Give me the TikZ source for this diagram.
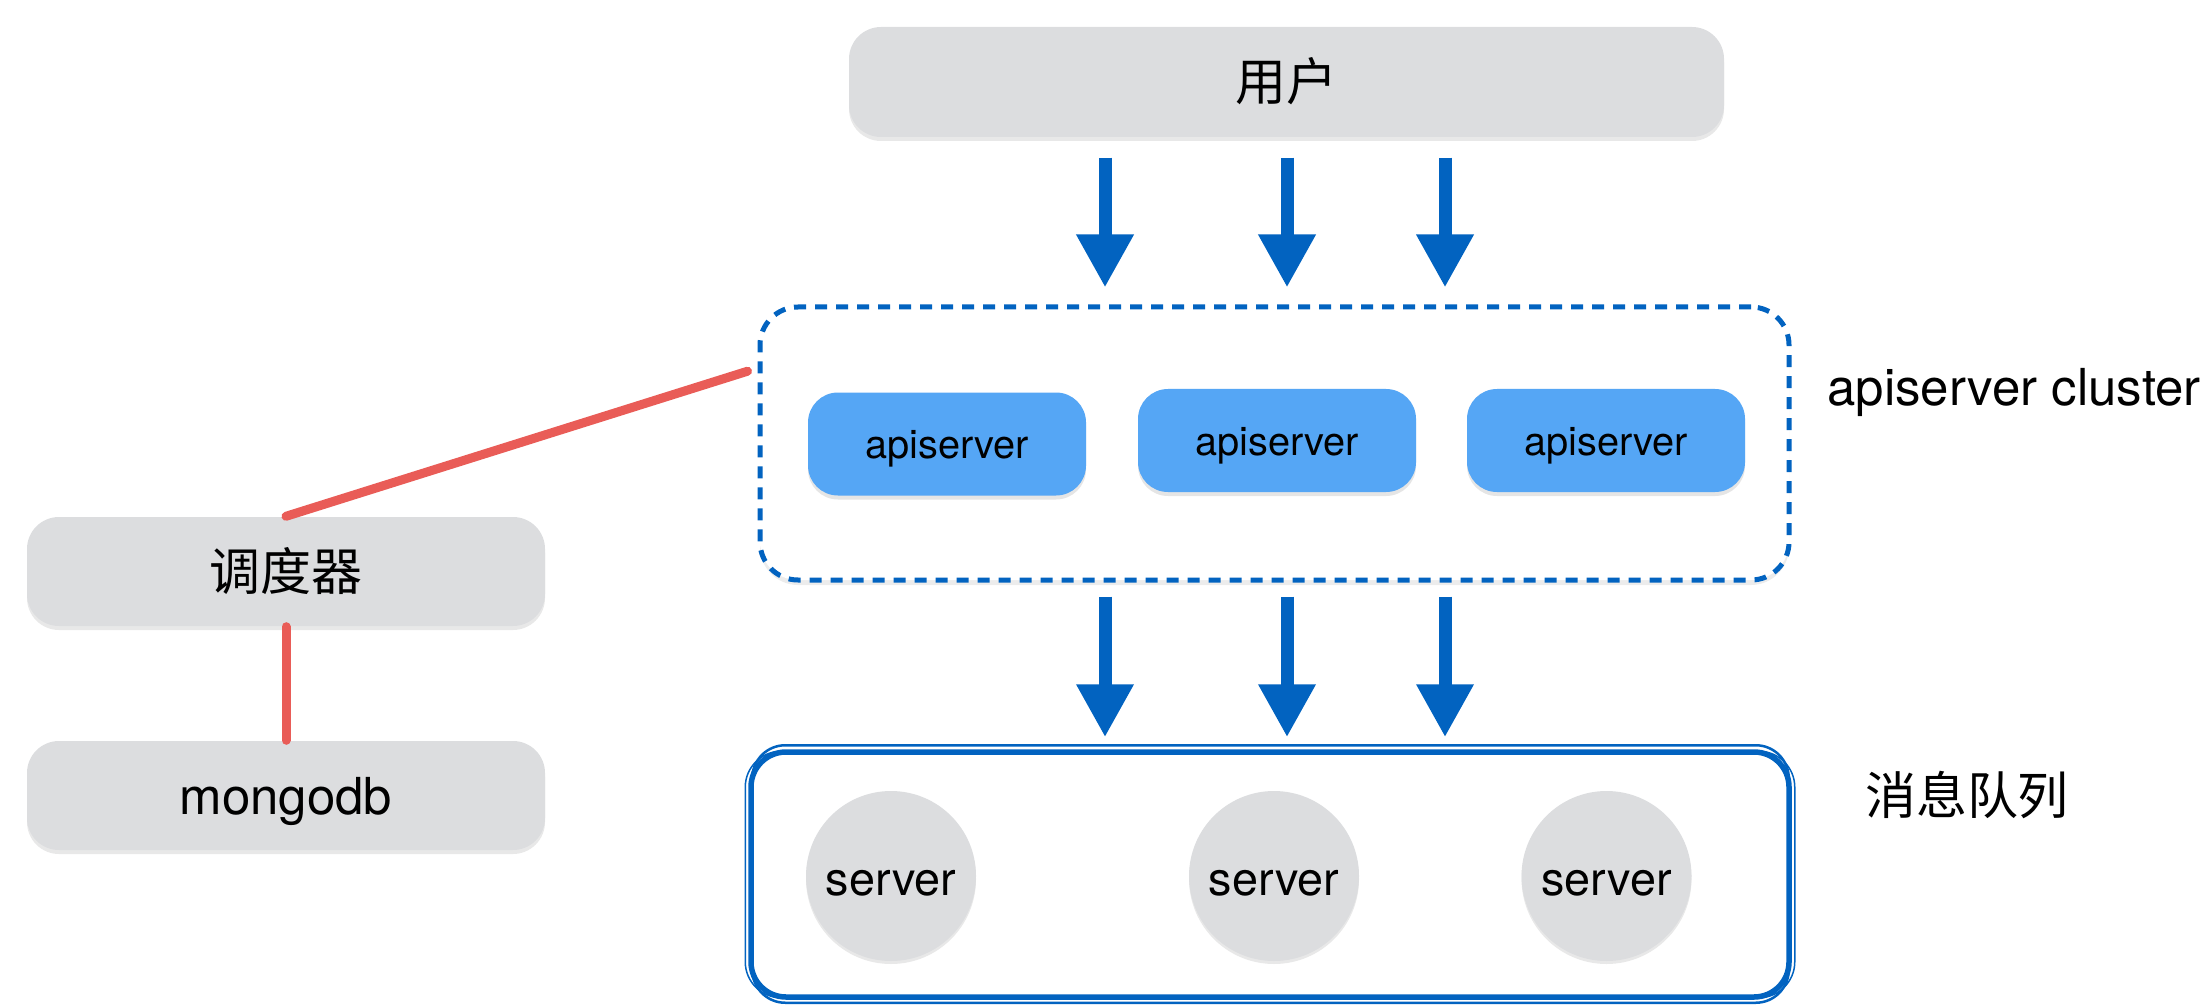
\documentclass[tikz,border=0pt]{standalone}
\usepackage{fontspec}
\setmainfont{TeX Gyre Heros}
\newfontfamily\cjk{Noto Sans CJK SC}
\usetikzlibrary{arrows.meta,shadows,calc}
\definecolor{boxgray}{RGB}{220,221,223}
\definecolor{apiblue}{RGB}{85,166,245}
\definecolor{flowblue}{RGB}{2,99,192}
\definecolor{linkred}{RGB}{233,92,87}
\def\bigtext{\fontsize{14.5pt}{17pt}\selectfont}
\tikzset{
  graybox/.style={rectangle, rounded corners=0.32cm, fill=boxgray,
    minimum width=5.18cm, minimum height=1.09cm, font=\bigtext,
    text height=0.38cm, text depth=0pt,
    drop shadow={opacity=0.18, shadow xshift=0pt, shadow yshift=-0.04cm}},
  apibox/.style={rectangle, rounded corners=0.3cm, fill=apiblue,
    minimum width=2.78cm, minimum height=1.03cm,
    font=\fontsize{11.3pt}{13pt}\selectfont,
    text height=0.29cm, text depth=0pt,
    drop shadow={opacity=0.2, shadow xshift=0pt, shadow yshift=-0.04cm}},
  serverdot/.style={circle, fill=boxgray, minimum size=1.70cm, inner sep=0pt,
    font=\fontsize{13.3pt}{15pt}\selectfont,
    text height=0.38cm, text depth=0pt,
    drop shadow={opacity=0.18, shadow xshift=0pt, shadow yshift=-0.03cm}},
  clusterbox/.style={rectangle, rounded corners=0.38cm, draw=flowblue, fill=white,
    line width=0.05cm, dash pattern=on 0.12cm off 0.09cm,
    minimum width=10.29cm, minimum height=2.73cm,
    drop shadow={opacity=0.15, shadow xshift=0pt, shadow yshift=-0.05cm}},
  queuebox/.style={rectangle, rounded corners=0.35cm, draw=flowblue,
    line width=0.055cm, minimum width=10.38cm, minimum height=2.45cm},
  labeltext/.style={font=\bigtext},
  flowarrow/.style={flowblue, line width=0.13cm,
    -{Triangle[width=0.54cm,length=0.53cm]}},
  redlink/.style={linkred, line width=0.09cm, line cap=round},
}
\begin{document}
\begin{tikzpicture}
%%%%% START %%%%%
\useasboundingbox (0,0) rectangle (22.12,-10.05);

% user
\node[graybox, minimum width=8.75cm, minimum height=1.10cm] (user) at (12.865,-0.82) {\cjk 用户};

% apiserver cluster
\node[clusterbox] (cluster) at (12.745,-4.435) {};
\node[apibox] (api1) at (9.47,-4.44) {apiserver};
\node[apibox] (api2) at (12.77,-4.405) {apiserver};
\node[apibox] (api3) at (16.06,-4.405) {apiserver};
\node[labeltext, anchor=base west] (clusterlabel) at (18.15,-4.05) {apiserver cluster};

% message queue
\node[queuebox] (queue) at (12.70,-8.745) {};
\draw[flowblue, line width=0.025cm, rounded corners=0.33cm]
  ($(queue.south west)+(0.04,-0.03)$) rectangle ($(queue.north east)+(-0.03,0.04)$);
\draw[flowblue, line width=0.015cm, rounded corners=0.36cm]
  ($(queue.south west)+(-0.03,0.02)$) rectangle ($(queue.north east)+(0.03,-0.02)$);
\node[serverdot] (srv1) at (8.91,-8.76) {server};
\node[serverdot] (srv2) at (12.74,-8.76) {server};
\node[serverdot] (srv3) at (16.065,-8.76) {server};
\node[labeltext] (queuelabel) at (19.67,-7.955) {\cjk 消息队列};

% scheduler and db
\node[graybox] (sched) at (2.86,-5.715) {\cjk 调度器};
\node[graybox] (mongo) at (2.86,-7.955) {mongodb};

\coordinate (hook) at ($(cluster.north west)!0.24!(cluster.south west)+(-0.1,0)$);
\draw[redlink] (sched.north) -- (hook);
\draw[redlink] (sched.south) -- (mongo.north);

% arrows
\foreach \x [count=\i] in {11.05,12.87,14.45}{
  \coordinate (col\i) at (\x,0);
  \draw[flowarrow, shorten <=0.2cm, shorten >=0.17cm] (col\i |- user.south) -- (col\i |- cluster.north);
  \draw[flowarrow, shorten <=0.14cm, shorten >=0.12cm] (col\i |- cluster.south) -- (col\i |- queue.north);
}

%%%%% END %%%%%
\end{tikzpicture}
\end{document}
